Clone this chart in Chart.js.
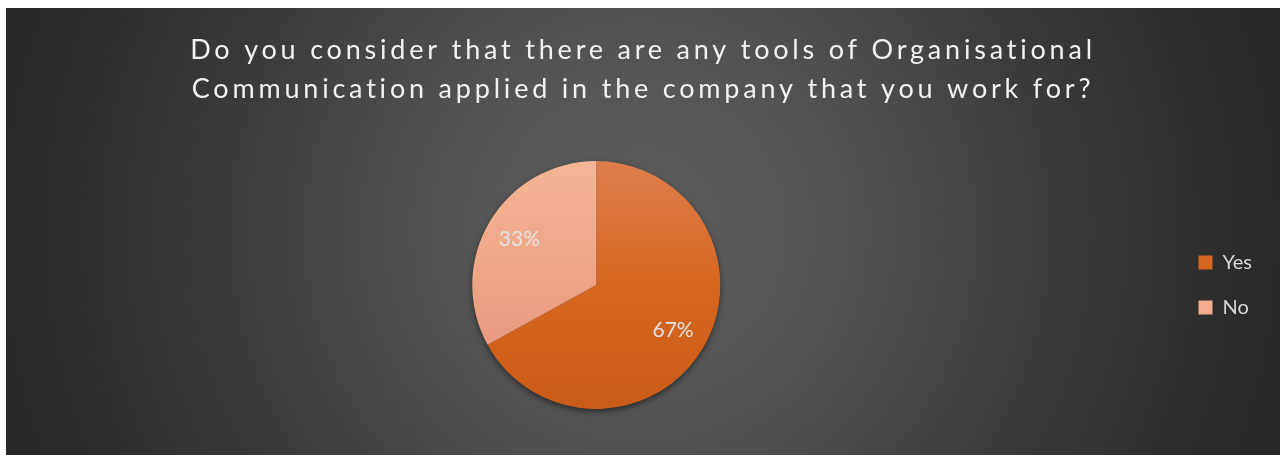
<!DOCTYPE html>
<html>
<head>
<meta charset="utf-8">
<script src="https://cdn.jsdelivr.net/npm/chart.js@4.4.1/dist/chart.umd.min.js"></script>
<style>
  html, body { margin: 0; padding: 0; background: #ffffff; }
  #wrap { width: 1283px; height: 455px; }
</style>
</head>
<body>
<div id="wrap"><canvas id="chart" width="1283" height="455"></canvas></div>
<script>
// Survey answers and their shares
const categories = ['Yes', 'No'];
const shares = [67, 33];
const titleLines = [
  'Do you consider that there are any tools of Organisational',
  'Communication applied in the company that you work for?'
];

// Slice fills: top-to-bottom shading stops per answer
const sliceStops = [
  ['#dd7e4d', '#d6671f', '#c95c18'],
  ['#f6b596', '#eea384', '#e5907a']
];
const legendSwatches = ['#d5661f', '#f2ad8d'];

const FONT = 'Lato, "Open Sans", sans-serif';

// Dark panel with a soft radial glow
const panelPlugin = {
  id: 'panel',
  beforeDraw(chart) {
    const ctx = chart.ctx;
    const W = chart.width, H = chart.height;
    ctx.save();
    ctx.fillStyle = '#ffffff';
    ctx.fillRect(0, 0, W, H);
    const x0 = 6, y0 = 8, x1 = 1280, y1 = H;
    const cx = 640, cy = 230;
    const g = ctx.createRadialGradient(cx, cy, 0, cx, cy, 700);
    g.addColorStop(0, '#5b5b5b');
    g.addColorStop(0.2, '#575757');
    g.addColorStop(0.39, '#4c4c4c');
    g.addColorStop(0.59, '#3b3b3b');
    g.addColorStop(0.84, '#2c2c2c');
    g.addColorStop(1, '#262626');
    ctx.fillStyle = g;
    ctx.fillRect(x0, y0, x1 - x0, y1 - y0);
    ctx.restore();
  },
  afterDraw(chart) {
    // Spaced-out two-line heading
    const ctx = chart.ctx;
    ctx.save();
    ctx.fillStyle = '#f2f2f2';
    ctx.font = '27px ' + FONT;
    ctx.letterSpacing = '3.8px';
    ctx.textAlign = 'center';
    ctx.textBaseline = 'alphabetic';
    ctx.fillText(titleLines[0], 643, 59);
    ctx.fillText(titleLines[1], 643, 98);
    ctx.restore();
  }
};

// Drop shadow under the pie disc
const shadowPlugin = {
  id: 'pieShadow',
  beforeDatasetsDraw(chart) {
    const arc = chart.getDatasetMeta(0).data[0];
    if (!arc) return;
    const { x, y, outerRadius } = arc.getProps(['x', 'y', 'outerRadius'], true);
    const ctx = chart.ctx;
    ctx.save();
    ctx.shadowColor = 'rgba(0,0,0,0.55)';
    ctx.shadowBlur = 6;
    ctx.shadowOffsetY = 2.5;
    ctx.fillStyle = '#3a3a3a';
    ctx.beginPath();
    ctx.arc(x, y, outerRadius - 0.5, 0, Math.PI * 2);
    ctx.fill();
    ctx.restore();
  }
};

// Percentage labels inside each slice
const sliceLabelPlugin = {
  id: 'sliceLabels',
  afterDatasetsDraw(chart) {
    const ctx = chart.ctx;
    const data = chart.data.datasets[0].data;
    const total = data.reduce((a, b) => a + b, 0);
    ctx.save();
    ctx.fillStyle = '#e3e3e3';
    ctx.font = '21px ' + FONT;
    ctx.textAlign = 'center';
    ctx.textBaseline = 'middle';
    chart.getDatasetMeta(0).data.forEach((arc, i) => {
      const { x, y, startAngle, endAngle, outerRadius } =
        arc.getProps(['x', 'y', 'startAngle', 'endAngle', 'outerRadius'], true);
      const mid = (startAngle + endAngle) / 2;
      const r = outerRadius * 0.72;
      const pct = Math.round(data[i] / total * 100) + '%';
      ctx.fillText(pct, x + Math.cos(mid) * r, y + Math.sin(mid) * r);
    });
    ctx.restore();
  }
};

function sliceFill(context) {
  const chart = context.chart;
  const area = chart.chartArea;
  const stops = sliceStops[context.dataIndex % sliceStops.length];
  if (!area) return stops[1];
  const g = chart.ctx.createLinearGradient(0, area.top, 0, area.bottom);
  g.addColorStop(0, stops[0]);
  g.addColorStop(0.5, stops[1]);
  g.addColorStop(1, stops[2]);
  return g;
}

new Chart(document.getElementById('chart'), {
  type: 'pie',
  data: {
    labels: categories,
    datasets: [{
      data: shares,
      backgroundColor: sliceFill,
      borderWidth: 0
    }]
  },
  options: {
    responsive: false,
    animation: false,
    layout: { padding: { top: 161, bottom: 46, left: 19, right: 21 } },
    plugins: {
      title: { display: false },
      tooltip: { enabled: false },
      legend: {
        position: 'right',
        labels: {
          color: '#d9d9d9',
          font: { family: FONT, size: 20 },
          boxWidth: 14,
          boxHeight: 14,
          padding: 25,
          generateLabels(chart) {
            return chart.data.labels.map((label, i) => ({
              text: label,
              fillStyle: legendSwatches[i],
              strokeStyle: legendSwatches[i],
              lineWidth: 0,
              fontColor: '#d9d9d9',
              index: i
            }));
          }
        }
      }
    }
  },
  plugins: [panelPlugin, shadowPlugin, sliceLabelPlugin]
});
</script>
</body>
</html>
